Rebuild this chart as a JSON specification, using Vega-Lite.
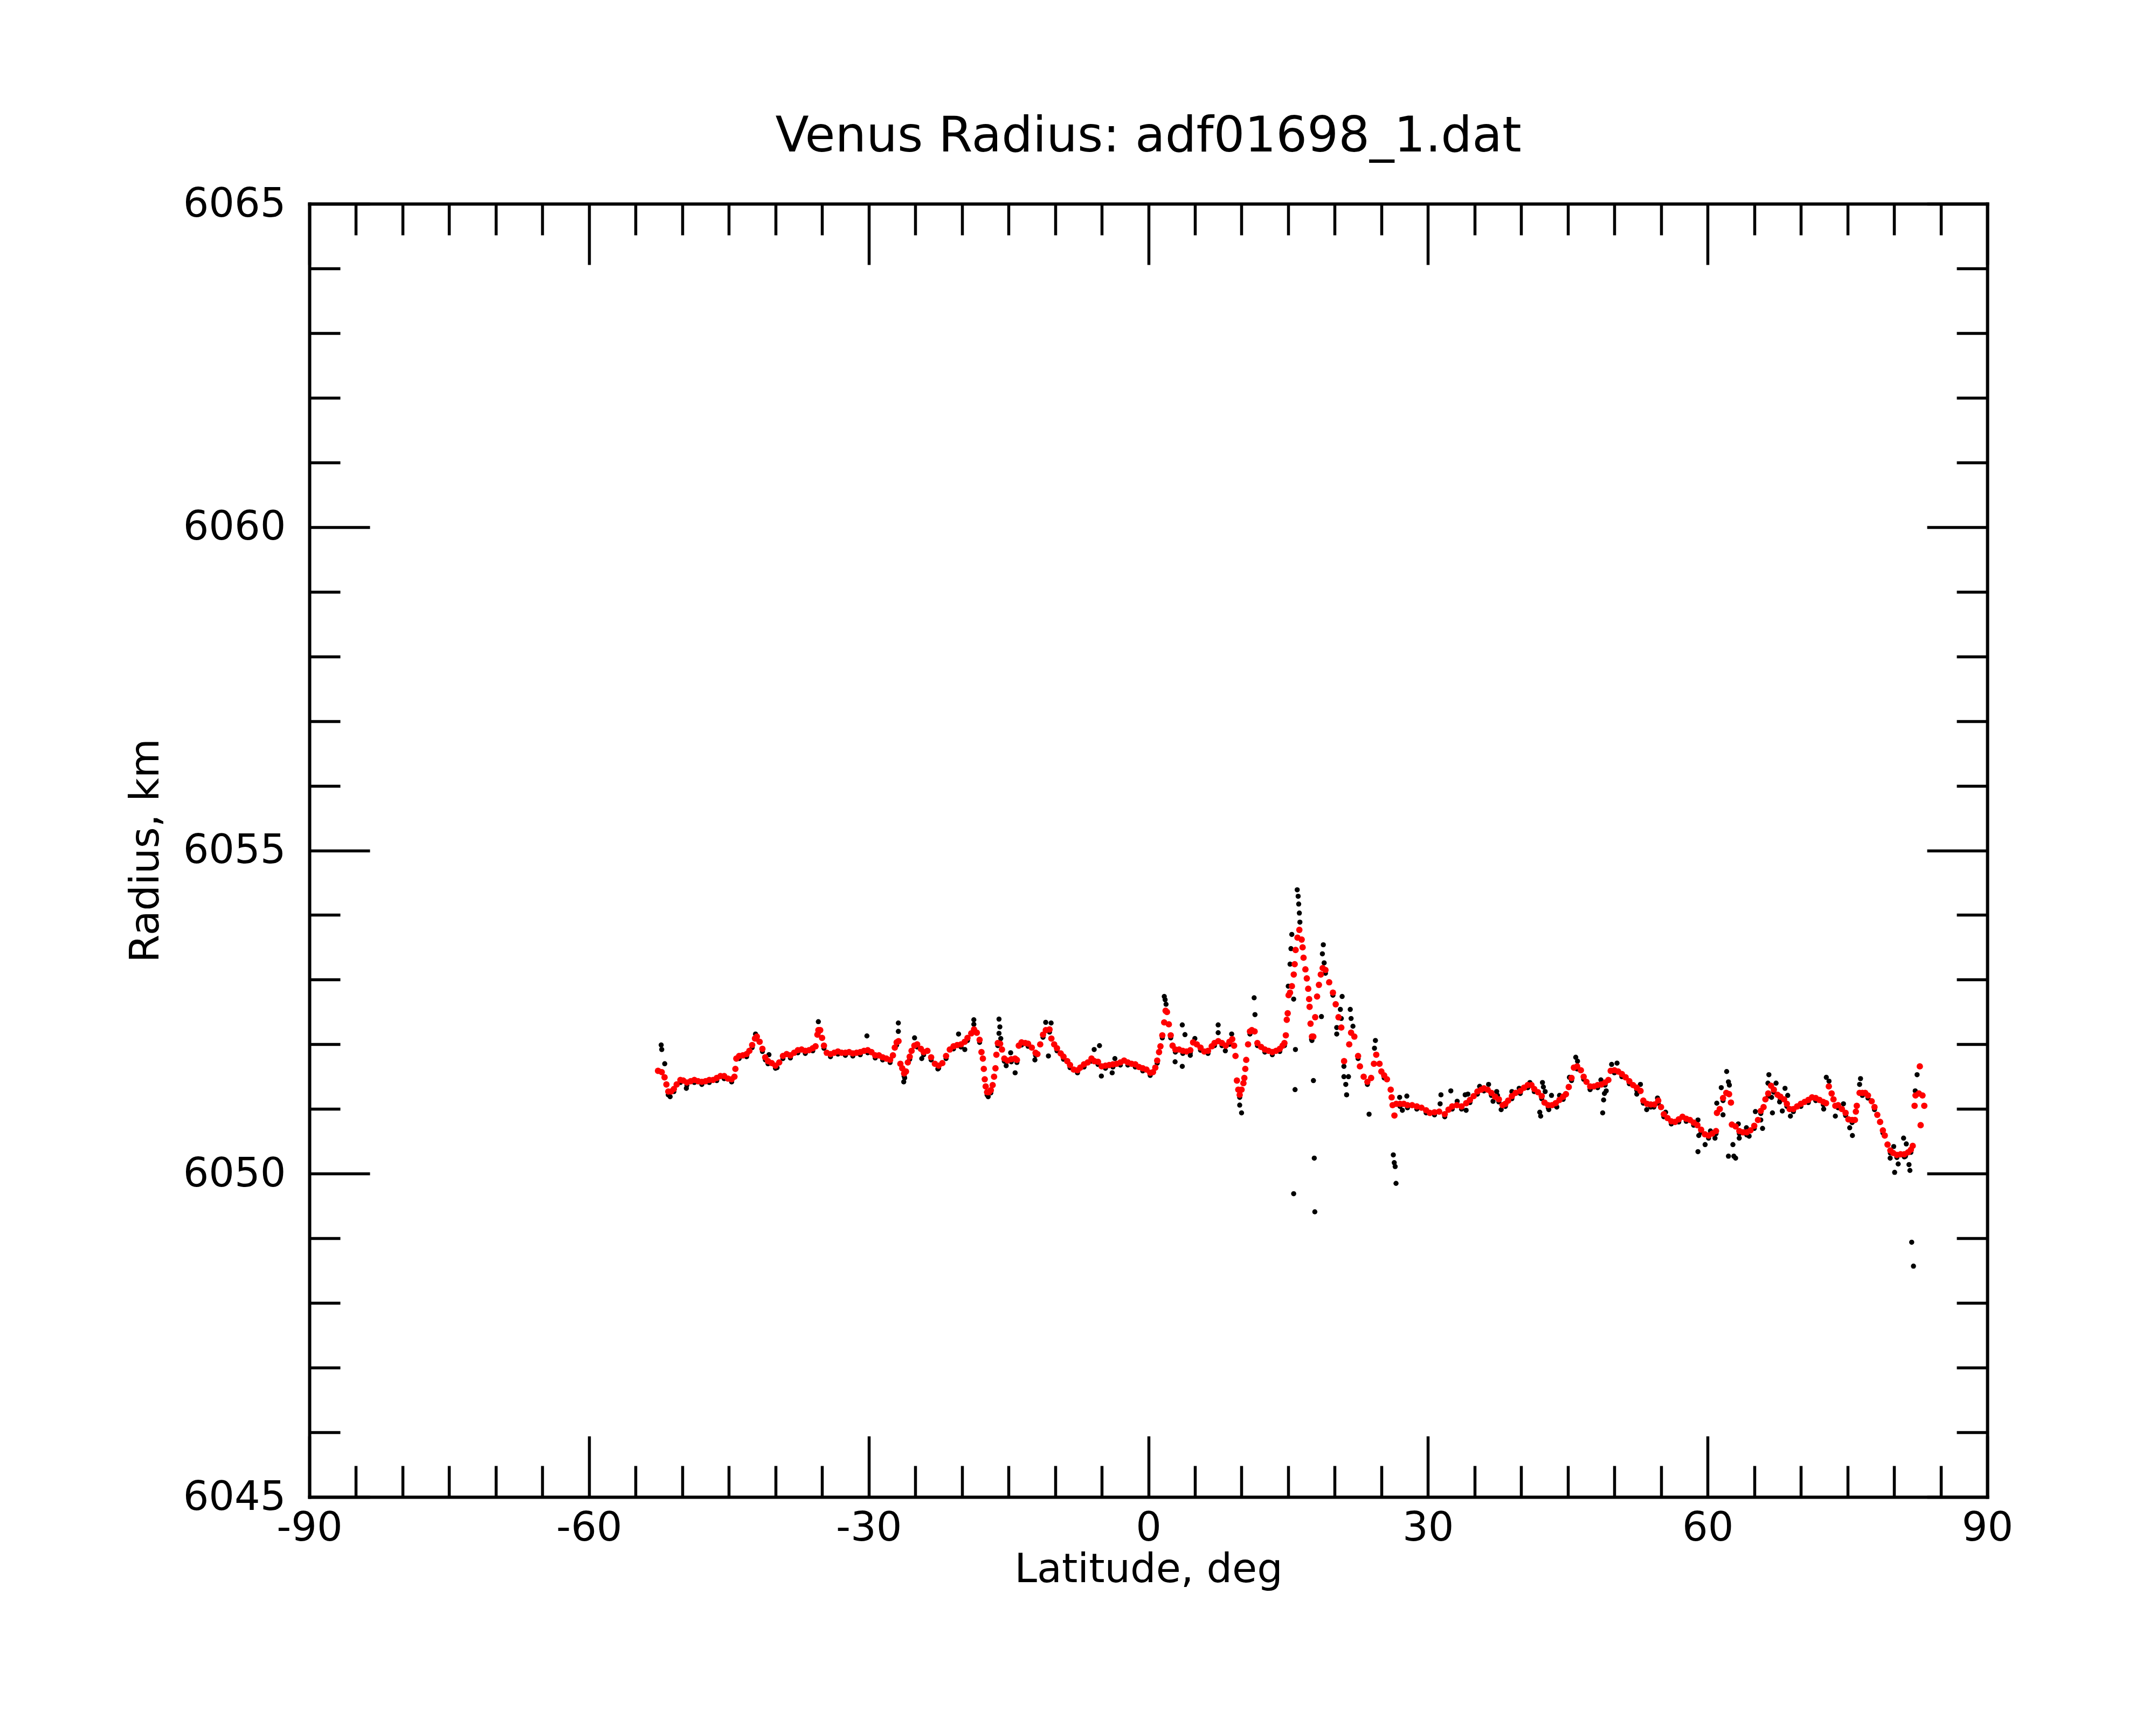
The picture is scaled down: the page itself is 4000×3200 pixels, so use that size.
{
  "$schema": "https://vega.github.io/schema/vega-lite/v6.json",
  "width": 3113,
  "height": 2399,
  "autosize": {"type": "none"},
  "padding": {"left": 574, "top": 378, "right": 313, "bottom": 423},
  "background": "white",
  "title": {
    "text": "Venus Radius: adf01698_1.dat",
    "font": "DejaVu Sans",
    "fontSize": 91,
    "fontWeight": "normal",
    "color": "black",
    "anchor": "middle",
    "frame": "group",
    "baseline": "alphabetic",
    "offset": -31
  },
  "config": {
    "view": {"stroke": null},
    "axis": {
      "grid": false,
      "domainColor": "black",
      "domainWidth": 6,
      "domainCap": "square",
      "tickColor": "black",
      "tickWidth": 5.5,
      "labelFont": "DejaVu Sans",
      "labelFontSize": 75,
      "labelColor": "black",
      "labelLimit": 400,
      "labelFlush": false,
      "labelOverlap": false,
      "titleFont": "DejaVu Sans",
      "titleFontSize": 75,
      "titleFontWeight": "normal",
      "titleColor": "black"
    }
  },
  "datasets": {
    "raw": [
      {"lat":-52.26,"r":6051.99},{"lat":-52.2,"r":6051.92},{"lat":-51.88,"r":6051.7},{"lat":-51.3,"r":6051.19},{"lat":-49.56,"r":6051.32},
      {"lat":-42.14,"r":6052.16},{"lat":-41.08,"r":6051.76},{"lat":-40.7,"r":6051.84},{"lat":-39.83,"r":6051.64},{"lat":-35.4,"r":6052.35},
      {"lat":-30.19,"r":6052.13},{"lat":-26.82,"r":6052.33},{"lat":-26.82,"r":6052.2},{"lat":-26.24,"r":6051.42},{"lat":-26.14,"r":6051.48},
      {"lat":-25.08,"r":6052.1},{"lat":-24.31,"r":6051.78},
      {"lat":-22.58,"r":6051.62},{"lat":-20.36,"r":6052.16},{"lat":-19.69,"r":6051.92},{"lat":-18.72,"r":6052.38},{"lat":-18.72,"r":6052.31},
      {"lat":-17.18,"r":6051.19},{"lat":-16.02,"r":6052.39},{"lat":-15.93,"r":6052.27},{"lat":-16.02,"r":6052.17},{"lat":-15.83,"r":6052.09},
      {"lat":-15.25,"r":6051.67},{"lat":-14.77,"r":6051.87},{"lat":-14.29,"r":6051.56},{"lat":-12.17,"r":6051.76},{"lat":-11.01,"r":6052.34},
      {"lat":-10.43,"r":6052.33},{"lat":-10.72,"r":6051.82},{"lat":-5.81,"r":6051.92},{"lat":-5.24,"r":6051.98},{"lat":-5.04,"r":6051.51},
      {"lat":-3.88,"r":6051.56},{"lat":-3.59,"r":6051.78},{"lat":1.71,"r":6052.74},{"lat":1.8,"r":6052.69},{"lat":1.9,"r":6052.62},
      {"lat":3.64,"r":6052.3},{"lat":3.93,"r":6052.15},{"lat":2.87,"r":6051.73},{"lat":3.64,"r":6051.66},{"lat":4.5,"r":6051.83},{"lat":4.99,"r":6052.09},
      {"lat":7.49,"r":6052.3},{"lat":7.49,"r":6052.18},{"lat":8.94,"r":6052.16},{"lat":8.26,"r":6051.9},{"lat":9.8,"r":6051.06},{"lat":10.0,"r":6050.94},
      {"lat":11.35,"r":6052.72},{"lat":11.44,"r":6052.46},{"lat":15.39,"r":6053.7},{"lat":15.3,"r":6053.48},{"lat":15.2,"r":6053.24},
      {"lat":15.01,"r":6052.9},{"lat":15.59,"r":6052.7},{"lat":15.78,"r":6051.92},{"lat":15.74,"r":6051.3},{"lat":15.59,"r":6049.69},
      {"lat":15.97,"r":6054.39},{"lat":16.07,"r":6054.29},{"lat":16.13,"r":6054.17},{"lat":16.2,"r":6054.03},{"lat":16.26,"r":6053.89},
      {"lat":17.71,"r":6051.44},{"lat":17.8,"r":6050.24},{"lat":17.86,"r":6049.41},{"lat":17.51,"r":6052.08},{"lat":18.57,"r":6052.43},
      {"lat":18.77,"r":6053.54},{"lat":18.67,"r":6053.4},{"lat":18.86,"r":6053.26},{"lat":20.79,"r":6052.74},{"lat":20.6,"r":6052.54},
      {"lat":20.7,"r":6052.4},{"lat":20.21,"r":6052.26},{"lat":20.21,"r":6052.16},{"lat":20.98,"r":6051.66},{"lat":20.98,"r":6051.5},
      {"lat":21.47,"r":6051.5},{"lat":21.18,"r":6051.38},{"lat":21.27,"r":6051.22},{"lat":21.66,"r":6052.54},{"lat":21.75,"r":6052.4},
      {"lat":21.95,"r":6052.28},{"lat":23.68,"r":6050.92},{"lat":24.36,"r":6052.06},{"lat":24.26,"r":6051.94},{"lat":26.28,"r":6050.29},
      {"lat":26.38,"r":6050.17},{"lat":26.48,"r":6050.11},{"lat":26.57,"r":6049.85},{"lat":26.96,"r":6051.18},{"lat":27.25,"r":6050.98},
      {"lat":27.73,"r":6051.2},{"lat":31.39,"r":6051.22},{"lat":31.3,"r":6051.08},{"lat":32.45,"r":6051.28},{"lat":33.13,"r":6051.12},{"lat":33.99,"r":6051.22},
      {"lat":34.28,"r":6051.23},{"lat":34.09,"r":6050.98},{"lat":35.54,"r":6051.35},{"lat":36.5,"r":6051.38},{"lat":37.37,"r":6051.27},
      {"lat":37.46,"r":6051.21},{"lat":36.98,"r":6051.12},{"lat":37.85,"r":6050.99},{"lat":39.0,"r":6051.27},{"lat":39.78,"r":6051.32},
      {"lat":40.93,"r":6051.41},{"lat":42.28,"r":6051.41},{"lat":42.38,"r":6051.34},{"lat":42.57,"r":6051.27},{"lat":43.25,"r":6051.21},
      {"lat":41.99,"r":6050.95},{"lat":42.09,"r":6050.89},{"lat":42.96,"r":6050.99},{"lat":43.82,"r":6051.03},{"lat":44.11,"r":6051.21},
      {"lat":45.17,"r":6051.49},{"lat":45.85,"r":6051.8},{"lat":46.04,"r":6051.74},{"lat":47.39,"r":6051.3},{"lat":48.55,"r":6051.45},
      {"lat":49.12,"r":6051.28},{"lat":48.93,"r":6051.24},{"lat":48.84,"r":6051.14},{"lat":48.74,"r":6050.94},{"lat":49.7,"r":6051.69},
      {"lat":50.28,"r":6051.71},{"lat":52.79,"r":6051.38},{"lat":52.4,"r":6051.23},{"lat":53.46,"r":6050.99},{"lat":54.62,"r":6051.17},
      {"lat":54.23,"r":6051.03},{"lat":55.49,"r":6050.95},{"lat":58.96,"r":6050.83},{"lat":59.05,"r":6050.59},{"lat":59.73,"r":6050.45},
      {"lat":58.96,"r":6050.34},{"lat":60.79,"r":6050.55},{"lat":60.3,"r":6050.66},{"lat":60.98,"r":6051.09},{"lat":61.46,"r":6051.33},
      {"lat":62.04,"r":6051.58},{"lat":62.23,"r":6051.42},{"lat":62.33,"r":6051.37},{"lat":61.65,"r":6050.91},{"lat":62.71,"r":6050.45},
      {"lat":62.23,"r":6050.27},{"lat":62.81,"r":6050.27},
      {"lat":63.0,"r":6050.24},{"lat":63.29,"r":6050.77},{"lat":63.39,"r":6050.55},{"lat":64.16,"r":6050.71},{"lat":64.45,"r":6050.58},
      {"lat":65.12,"r":6050.96},{"lat":65.7,"r":6050.83},{"lat":65.89,"r":6050.7},{"lat":66.57,"r":6051.53},{"lat":66.47,"r":6051.4},
      {"lat":66.86,"r":6051.18},{"lat":66.95,"r":6050.94},{"lat":67.34,"r":6051.4},{"lat":67.72,"r":6051.11},{"lat":68.01,"r":6050.97},
      {"lat":68.3,"r":6051.32},{"lat":68.59,"r":6051.21},{"lat":68.88,"r":6050.89},{"lat":72.45,"r":6051.0},{"lat":72.73,"r":6051.49},
      {"lat":73.02,"r":6051.43},{"lat":73.7,"r":6050.89},{"lat":74.57,"r":6051.08},{"lat":75.24,"r":6050.71},{"lat":75.53,"r":6050.59},
      {"lat":76.4,"r":6051.47},{"lat":76.3,"r":6051.38},{"lat":79.96,"r":6050.42},{"lat":79.58,"r":6050.24},{"lat":80.44,"r":6050.15},
      {"lat":80.06,"r":6050.02},{"lat":81.02,"r":6050.55},{"lat":81.31,"r":6050.46},{"lat":81.22,"r":6050.27},{"lat":81.6,"r":6050.14},
      {"lat":81.7,"r":6050.05},{"lat":82.47,"r":6051.53},{"lat":82.27,"r":6051.28},{"lat":81.89,"r":6048.94},{"lat":82.08,"r":6048.57},
      {"lat":-51.5,"r":6051.22},{"lat":-50.9,"r":6051.27},{"lat":-50.2,"r":6051.41},{"lat":-49.5,"r":6051.37},{"lat":-48.7,"r":6051.41},
      {"lat":-47.9,"r":6051.38},{"lat":-47.1,"r":6051.41},{"lat":-46.3,"r":6051.44},{"lat":-45.5,"r":6051.47},{"lat":-44.7,"r":6051.42},
      {"lat":-43.9,"r":6051.78},{"lat":-43.1,"r":6051.81},{"lat":-42.5,"r":6051.95},{"lat":-42.0,"r":6052.08},{"lat":-41.4,"r":6051.89},
      {"lat":-40.8,"r":6051.7},{"lat":-40.0,"r":6051.63},{"lat":-39.2,"r":6051.78},{"lat":-38.4,"r":6051.79},{"lat":-37.6,"r":6051.87},
      {"lat":-36.8,"r":6051.86},{"lat":-36.0,"r":6051.9},{"lat":-35.4,"r":6052.18},{"lat":-34.8,"r":6051.94},{"lat":-34.1,"r":6051.81},
      {"lat":-33.3,"r":6051.85},{"lat":-32.5,"r":6051.83},{"lat":-31.7,"r":6051.82},{"lat":-30.9,"r":6051.84},{"lat":-30.1,"r":6051.87},
      {"lat":-29.3,"r":6051.79},{"lat":-28.5,"r":6051.76},{"lat":-27.7,"r":6051.72},{"lat":-27.0,"r":6051.99},{"lat":-26.2,"r":6051.51},
      {"lat":-25.6,"r":6051.77},{"lat":-24.8,"r":6051.96},{"lat":-24.1,"r":6051.84},
      {"lat":-23.3,"r":6051.76},{"lat":-22.5,"r":6051.63},{"lat":-21.7,"r":6051.78},{"lat":-20.9,"r":6051.93},{"lat":-20.1,"r":6051.96},
      {"lat":-19.4,"r":6052.06},{"lat":-18.7,"r":6052.19},{"lat":-18.1,"r":6052.03},{"lat":-17.3,"r":6051.22},{"lat":-16.9,"r":6051.25},
      {"lat":-16.15,"r":6051.98},{"lat":-15.45,"r":6051.74},{"lat":-14.7,"r":6051.73},{"lat":-14.1,"r":6051.72},{"lat":-13.6,"r":6051.99},
      {"lat":-12.9,"r":6051.97},{"lat":-12.1,"r":6051.83},{"lat":-11.3,"r":6052.11},{"lat":-10.6,"r":6052.19},{"lat":-9.8,"r":6051.9},
      {"lat":-9.1,"r":6051.77},{"lat":-8.4,"r":6051.64},{"lat":-7.6,"r":6051.56},{"lat":-6.9,"r":6051.65},{"lat":-6.1,"r":6051.74},
      {"lat":-5.4,"r":6051.69},{"lat":-4.6,"r":6051.63},{"lat":-3.8,"r":6051.65},{"lat":-3.0,"r":6051.68},{"lat":-2.2,"r":6051.68},
      {"lat":-1.4,"r":6051.65},{"lat":-0.6,"r":6051.59},{"lat":0.2,"r":6051.52},{"lat":0.95,"r":6051.71},{"lat":1.5,"r":6052.1},
      {"lat":2.4,"r":6052.1},{"lat":2.9,"r":6051.88},{"lat":3.7,"r":6051.86},{"lat":4.5,"r":6051.87},
      {"lat":5.6,"r":6051.91},{"lat":6.4,"r":6051.86},{"lat":7.1,"r":6051.98},{"lat":7.9,"r":6051.98},{"lat":8.7,"r":6052.0},
      {"lat":9.8,"r":6051.18},{"lat":10.9,"r":6052.16},{"lat":11.7,"r":6051.98},{"lat":12.5,"r":6051.88},{"lat":13.3,"r":6051.84},
      {"lat":14.1,"r":6051.89},{"lat":14.6,"r":6051.98},{"lat":17.55,"r":6052.06},{"lat":19.0,"r":6053.1},{"lat":19.8,"r":6052.76},
      {"lat":22.5,"r":6051.78},{"lat":23.5,"r":6051.38},{"lat":25.3,"r":6051.48},{"lat":27.0,"r":6051.04},{"lat":27.8,"r":6051.02},
      {"lat":28.8,"r":6051.0},{"lat":29.8,"r":6050.94},{"lat":30.7,"r":6050.91},{"lat":31.8,"r":6050.88},{"lat":32.6,"r":6051.0},{"lat":33.6,"r":6051.0},
      {"lat":34.5,"r":6051.1},{"lat":35.3,"r":6051.23},{"lat":36.0,"r":6051.28},{"lat":36.8,"r":6051.21},{"lat":37.6,"r":6051.11},
      {"lat":38.3,"r":6051.04},{"lat":39.0,"r":6051.16},{"lat":39.9,"r":6051.24},{"lat":40.7,"r":6051.33},{"lat":41.4,"r":6051.27},
      {"lat":42.2,"r":6051.16},{"lat":42.9,"r":6051.02},{"lat":43.7,"r":6051.05},{"lat":44.5,"r":6051.15},{"lat":45.4,"r":6051.44},
      {"lat":46.0,"r":6051.62},{"lat":46.7,"r":6051.46},{"lat":47.4,"r":6051.31},{"lat":48.2,"r":6051.33},{"lat":49.0,"r":6051.37},
      {"lat":50.0,"r":6051.56},{"lat":50.8,"r":6051.5},{"lat":51.6,"r":6051.39},{"lat":52.4,"r":6051.29},{"lat":53.1,"r":6051.09},
      {"lat":53.9,"r":6051.03},{"lat":54.7,"r":6051.09},{"lat":55.3,"r":6050.88},{"lat":56.1,"r":6050.77},{"lat":56.9,"r":6050.8},
      {"lat":57.7,"r":6050.81},{"lat":58.5,"r":6050.75},{"lat":59.3,"r":6050.64},{"lat":60.1,"r":6050.55},{"lat":60.9,"r":6050.62},{"lat":61.65,"r":6051.13},
      {"lat":63.4,"r":6050.62},{"lat":64.2,"r":6050.6},{"lat":65.0,"r":6050.7},{"lat":65.7,"r":6050.93},{"lat":66.5,"r":6051.2},
      {"lat":67.1,"r":6051.26},{"lat":67.8,"r":6051.15},{"lat":68.5,"r":6051.04},{"lat":69.2,"r":6050.96},{"lat":70.0,"r":6051.04},
      {"lat":70.8,"r":6051.1},{"lat":71.6,"r":6051.13},{"lat":72.4,"r":6051.07},{"lat":74.0,"r":6051.02},{"lat":74.8,"r":6050.9},
      {"lat":75.5,"r":6050.79},{"lat":76.6,"r":6051.21},{"lat":77.2,"r":6051.17},{"lat":77.9,"r":6050.99},{"lat":78.8,"r":6050.63},
      {"lat":79.6,"r":6050.32},{"lat":80.3,"r":6050.25},{"lat":81.1,"r":6050.26},{"lat":81.8,"r":6050.33}
    ],
    "smooth": [
      {"lat":-52.6,"r":6051.59},{"lat":-52.2,"r":6051.57},{"lat":-51.9,"r":6051.49},{"lat":-51.7,"r":6051.38},{"lat":-51.5,"r":6051.27},
      {"lat":-51.2,"r":6051.27},{"lat":-50.9,"r":6051.31},{"lat":-50.6,"r":6051.38},{"lat":-50.2,"r":6051.45},{"lat":-49.9,"r":6051.44},
      {"lat":-49.5,"r":6051.41},{"lat":-49.1,"r":6051.43},{"lat":-48.7,"r":6051.45},{"lat":-48.3,"r":6051.43},{"lat":-47.9,"r":6051.42},
      {"lat":-47.5,"r":6051.43},{"lat":-47.1,"r":6051.45},{"lat":-46.7,"r":6051.45},{"lat":-46.3,"r":6051.48},{"lat":-45.9,"r":6051.51},
      {"lat":-45.5,"r":6051.51},{"lat":-45.1,"r":6051.47},{"lat":-44.7,"r":6051.46},{"lat":-44.4,"r":6051.5},{"lat":-44.3,"r":6051.62},
      {"lat":-44.2,"r":6051.78},{"lat":-43.9,"r":6051.82},{"lat":-43.5,"r":6051.83},{"lat":-43.1,"r":6051.85},{"lat":-42.8,"r":6051.9},
      {"lat":-42.5,"r":6051.99},{"lat":-42.2,"r":6052.09},{"lat":-42.0,"r":6052.12},{"lat":-41.7,"r":6052.04},{"lat":-41.4,"r":6051.93},
      {"lat":-41.1,"r":6051.8},{"lat":-40.8,"r":6051.74},{"lat":-40.4,"r":6051.71},{"lat":-40.0,"r":6051.67},{"lat":-39.6,"r":6051.72},
      {"lat":-39.2,"r":6051.82},{"lat":-38.8,"r":6051.85},{"lat":-38.4,"r":6051.83},{"lat":-38.0,"r":6051.87},{"lat":-37.6,"r":6051.91},
      {"lat":-37.2,"r":6051.92},{"lat":-36.8,"r":6051.9},{"lat":-36.4,"r":6051.91},{"lat":-36.0,"r":6051.94},{"lat":-35.7,"r":6051.97},
      {"lat":-35.5,"r":6052.15},{"lat":-35.4,"r":6052.22},{"lat":-35.2,"r":6052.22},{"lat":-35.0,"r":6052.1},{"lat":-34.8,"r":6051.98},
      {"lat":-34.5,"r":6051.87},{"lat":-34.1,"r":6051.85},{"lat":-33.7,"r":6051.87},{"lat":-33.3,"r":6051.89},{"lat":-32.9,"r":6051.87},
      {"lat":-32.5,"r":6051.87},{"lat":-32.1,"r":6051.88},{"lat":-31.7,"r":6051.86},{"lat":-31.3,"r":6051.87},{"lat":-30.9,"r":6051.88},
      {"lat":-30.5,"r":6051.9},{"lat":-30.1,"r":6051.91},{"lat":-29.7,"r":6051.88},{"lat":-29.3,"r":6051.83},{"lat":-28.9,"r":6051.83},
      {"lat":-28.5,"r":6051.8},{"lat":-28.1,"r":6051.78},{"lat":-27.7,"r":6051.76},{"lat":-27.4,"r":6051.83},{"lat":-27.2,"r":6051.95},
      {"lat":-27.0,"r":6052.03},{"lat":-26.8,"r":6052.05},{"lat":-26.6,"r":6051.7},{"lat":-26.4,"r":6051.63},{"lat":-26.2,"r":6051.55},
      {"lat":-26.0,"r":6051.58},{"lat":-25.8,"r":6051.72},{"lat":-25.6,"r":6051.81},{"lat":-25.4,"r":6051.9},{"lat":-25.1,"r":6051.98},
      {"lat":-24.8,"r":6052.0},{"lat":-24.4,"r":6051.93},{"lat":-24.1,"r":6051.88},
      {"lat":-23.7,"r":6051.9},{"lat":-23.3,"r":6051.8},{"lat":-22.9,"r":6051.7},{"lat":-22.5,"r":6051.67},{"lat":-22.1,"r":6051.71},
      {"lat":-21.7,"r":6051.82},{"lat":-21.3,"r":6051.92},{"lat":-20.9,"r":6051.97},{"lat":-20.5,"r":6051.99},{"lat":-20.1,"r":6052.0},
      {"lat":-19.7,"r":6052.04},{"lat":-19.4,"r":6052.1},{"lat":-19.0,"r":6052.17},{"lat":-18.7,"r":6052.23},{"lat":-18.4,"r":6052.18},
      {"lat":-18.1,"r":6052.07},{"lat":-17.9,"r":6051.88},{"lat":-17.75,"r":6051.78},{"lat":-17.65,"r":6051.62},{"lat":-17.55,"r":6051.46},
      {"lat":-17.45,"r":6051.35},{"lat":-17.3,"r":6051.26},{"lat":-17.1,"r":6051.26},{"lat":-16.9,"r":6051.29},{"lat":-16.7,"r":6051.37},
      {"lat":-16.55,"r":6051.5},{"lat":-16.4,"r":6051.63},{"lat":-16.3,"r":6051.84},{"lat":-16.15,"r":6052.02},{"lat":-15.9,"r":6052.01},
      {"lat":-15.7,"r":6051.92},{"lat":-15.45,"r":6051.78},{"lat":-15.1,"r":6051.75},{"lat":-14.7,"r":6051.77},{"lat":-14.3,"r":6051.78},
      {"lat":-14.1,"r":6051.76},{"lat":-13.9,"r":6051.98},{"lat":-13.6,"r":6052.03},{"lat":-13.2,"r":6052.02},{"lat":-12.9,"r":6052.01},
      {"lat":-12.5,"r":6051.95},{"lat":-12.1,"r":6051.87},{"lat":-11.9,"r":6051.85},{"lat":-11.6,"r":6052.0},{"lat":-11.3,"r":6052.15},
      {"lat":-11.0,"r":6052.22},{"lat":-10.6,"r":6052.23},{"lat":-10.4,"r":6052.09},{"lat":-10.1,"r":6052.0},{"lat":-9.8,"r":6051.94},
      {"lat":-9.4,"r":6051.86},{"lat":-9.1,"r":6051.81},{"lat":-8.7,"r":6051.74},{"lat":-8.4,"r":6051.68},{"lat":-8.0,"r":6051.61},
      {"lat":-7.6,"r":6051.6},{"lat":-7.3,"r":6051.64},{"lat":-6.9,"r":6051.69},{"lat":-6.5,"r":6051.72},{"lat":-6.1,"r":6051.78},
      {"lat":-5.8,"r":6051.74},{"lat":-5.4,"r":6051.73},{"lat":-5.0,"r":6051.66},{"lat":-4.6,"r":6051.67},{"lat":-4.2,"r":6051.68},
      {"lat":-3.8,"r":6051.69},{"lat":-3.4,"r":6051.7},{"lat":-3.0,"r":6051.72},{"lat":-2.6,"r":6051.75},{"lat":-2.2,"r":6051.72},
      {"lat":-1.8,"r":6051.7},{"lat":-1.4,"r":6051.69},{"lat":-1.0,"r":6051.65},{"lat":-0.6,"r":6051.63},{"lat":-0.2,"r":6051.61},
      {"lat":0.2,"r":6051.56},{"lat":0.5,"r":6051.57},{"lat":0.75,"r":6051.64},{"lat":0.95,"r":6051.75},{"lat":1.15,"r":6051.88},
      {"lat":1.3,"r":6051.97},{"lat":1.5,"r":6052.14},{"lat":1.7,"r":6052.34},{"lat":1.85,"r":6052.52},{"lat":2.0,"r":6052.5},
      {"lat":2.2,"r":6052.31},{"lat":2.4,"r":6052.14},{"lat":2.6,"r":6051.98},{"lat":2.9,"r":6051.92},{"lat":3.3,"r":6051.92},
      {"lat":3.7,"r":6051.9},{"lat":4.1,"r":6051.89},{"lat":4.5,"r":6051.91},{"lat":4.8,"r":6052.03},
      {"lat":5.2,"r":6052.0},{"lat":5.6,"r":6051.95},{"lat":6.0,"r":6051.89},{"lat":6.4,"r":6051.9},{"lat":6.8,"r":6051.97},
      {"lat":7.1,"r":6052.02},{"lat":7.5,"r":6052.05},{"lat":7.9,"r":6052.02},{"lat":8.3,"r":6051.98},{"lat":8.7,"r":6052.04},
      {"lat":9.0,"r":6052.08},{"lat":9.2,"r":6051.98},{"lat":9.35,"r":6051.82},{"lat":9.5,"r":6051.44},{"lat":9.65,"r":6051.3},
      {"lat":9.8,"r":6051.22},{"lat":10.0,"r":6051.3},{"lat":10.2,"r":6051.4},{"lat":10.3,"r":6051.48},{"lat":10.4,"r":6051.62},
      {"lat":10.5,"r":6051.76},{"lat":10.7,"r":6052.0},{"lat":10.9,"r":6052.2},{"lat":11.1,"r":6052.22},{"lat":11.4,"r":6052.2},
      {"lat":11.7,"r":6052.02},{"lat":12.1,"r":6051.96},{"lat":12.5,"r":6051.92},{"lat":12.9,"r":6051.9},{"lat":13.3,"r":6051.88},
      {"lat":13.7,"r":6051.9},{"lat":14.1,"r":6051.93},{"lat":14.4,"r":6051.98},{"lat":14.6,"r":6052.02},{"lat":14.75,"r":6052.14},
      {"lat":14.85,"r":6052.38},{"lat":14.95,"r":6052.48},{"lat":15.05,"r":6052.76},{"lat":15.2,"r":6052.8},{"lat":15.4,"r":6052.9},
      {"lat":15.6,"r":6053.08},{"lat":15.7,"r":6053.24},{"lat":15.8,"r":6053.46},{"lat":16.0,"r":6053.65},{"lat":16.2,"r":6053.77},
      {"lat":16.45,"r":6053.62},{"lat":16.55,"r":6053.5},{"lat":16.65,"r":6053.34},{"lat":16.85,"r":6053.16},{"lat":17.0,"r":6053.02},
      {"lat":17.15,"r":6052.86},{"lat":17.25,"r":6052.7},{"lat":17.3,"r":6052.58},{"lat":17.4,"r":6052.32},{"lat":17.55,"r":6052.12},
      {"lat":17.7,"r":6052.12},{"lat":17.9,"r":6052.42},{"lat":18.1,"r":6052.74},{"lat":18.3,"r":6052.92},{"lat":18.5,"r":6053.08},
      {"lat":18.7,"r":6053.18},{"lat":19.0,"r":6053.15},{"lat":19.4,"r":6052.96},{"lat":19.8,"r":6052.8},{"lat":20.1,"r":6052.62},
      {"lat":20.4,"r":6052.42},{"lat":20.7,"r":6052.26},{"lat":21.0,"r":6051.74},{"lat":21.55,"r":6052.0},{"lat":21.75,"r":6052.18},
      {"lat":22.1,"r":6052.12},{"lat":22.5,"r":6051.82},{"lat":22.7,"r":6051.66},{"lat":23.1,"r":6051.5},{"lat":23.5,"r":6051.42},
      {"lat":23.9,"r":6051.48},{"lat":24.2,"r":6051.7},{"lat":24.45,"r":6051.84},{"lat":24.8,"r":6051.7},{"lat":25.0,"r":6051.58},
      {"lat":25.3,"r":6051.52},{"lat":25.6,"r":6051.46},{"lat":26.0,"r":6051.3},{"lat":26.1,"r":6051.18},{"lat":26.2,"r":6051.06},
      {"lat":26.4,"r":6050.9},{"lat":26.6,"r":6051.08},{"lat":27.0,"r":6051.08},{"lat":27.4,"r":6051.08},{"lat":27.8,"r":6051.06},
      {"lat":28.3,"r":6051.06},{"lat":28.8,"r":6051.04},{"lat":29.3,"r":6051.02},{"lat":29.8,"r":6050.98},{"lat":30.2,"r":6050.94},
      {"lat":30.7,"r":6050.95},{"lat":31.2,"r":6050.96},{"lat":31.8,"r":6050.92},{"lat":32.2,"r":6050.99},{"lat":32.6,"r":6051.04},
      {"lat":33.1,"r":6051.06},{"lat":33.6,"r":6051.04},
      {"lat":34.1,"r":6051.09},{"lat":34.5,"r":6051.14},{"lat":34.9,"r":6051.2},{"lat":35.3,"r":6051.27},{"lat":35.7,"r":6051.3},
      {"lat":36.0,"r":6051.32},{"lat":36.4,"r":6051.3},{"lat":36.8,"r":6051.25},{"lat":37.2,"r":6051.19},{"lat":37.6,"r":6051.15},
      {"lat":38.0,"r":6051.06},{"lat":38.3,"r":6051.08},{"lat":38.6,"r":6051.13},{"lat":39.0,"r":6051.2},{"lat":39.4,"r":6051.25},
      {"lat":39.9,"r":6051.28},{"lat":40.3,"r":6051.33},{"lat":40.7,"r":6051.37},{"lat":41.1,"r":6051.37},{"lat":41.4,"r":6051.31},
      {"lat":41.8,"r":6051.26},{"lat":42.2,"r":6051.2},{"lat":42.5,"r":6051.1},{"lat":42.9,"r":6051.06},{"lat":43.3,"r":6051.06},
      {"lat":43.7,"r":6051.09},{"lat":44.1,"r":6051.14},{"lat":44.5,"r":6051.19},{"lat":44.8,"r":6051.23},{"lat":45.1,"r":6051.34},
      {"lat":45.4,"r":6051.48},{"lat":45.65,"r":6051.64},{"lat":46.0,"r":6051.66},{"lat":46.4,"r":6051.6},{"lat":46.7,"r":6051.5},
      {"lat":47.0,"r":6051.42},{"lat":47.4,"r":6051.35},{"lat":47.8,"r":6051.35},{"lat":48.2,"r":6051.37},{"lat":48.6,"r":6051.38},
      {"lat":49.0,"r":6051.41},{"lat":49.35,"r":6051.45},{"lat":49.6,"r":6051.59},{"lat":50.0,"r":6051.6},{"lat":50.4,"r":6051.58},
      {"lat":50.8,"r":6051.54},{"lat":51.2,"r":6051.49},{"lat":51.6,"r":6051.43},{"lat":52.0,"r":6051.37},{"lat":52.4,"r":6051.33},
      {"lat":52.8,"r":6051.28},{"lat":53.1,"r":6051.13},{"lat":53.5,"r":6051.08},{"lat":53.9,"r":6051.07},{"lat":54.3,"r":6051.07},
      {"lat":54.7,"r":6051.13},{"lat":55.0,"r":6051.03},{"lat":55.3,"r":6050.92},{"lat":55.7,"r":6050.86},{"lat":56.1,"r":6050.81},
      {"lat":56.5,"r":6050.8},{"lat":56.9,"r":6050.84},{"lat":57.3,"r":6050.88},{"lat":57.7,"r":6050.85},{"lat":58.1,"r":6050.83},
      {"lat":58.5,"r":6050.79},{"lat":58.9,"r":6050.75},{"lat":59.3,"r":6050.68},{"lat":59.7,"r":6050.61},{"lat":60.1,"r":6050.59},
      {"lat":60.5,"r":6050.62},{"lat":60.9,"r":6050.66},{"lat":61.0,"r":6050.94},{"lat":61.3,"r":6051.0},{"lat":61.65,"r":6051.17},
      {"lat":62.0,"r":6051.25},{"lat":62.3,"r":6051.23},{"lat":62.5,"r":6051.1},{"lat":62.6,"r":6050.76},{"lat":63.0,"r":6050.73},
      {"lat":63.4,"r":6050.66},{"lat":63.8,"r":6050.64},{"lat":64.2,"r":6050.64},{"lat":64.6,"r":6050.67},{"lat":65.0,"r":6050.74},
      {"lat":65.4,"r":6050.83},{"lat":65.7,"r":6050.97},{"lat":66.0,"r":6051.03},{"lat":66.2,"r":6051.15},{"lat":66.5,"r":6051.24},
      {"lat":66.8,"r":6051.36},{"lat":67.1,"r":6051.3},{"lat":67.5,"r":6051.22},{"lat":67.8,"r":6051.19},{"lat":68.2,"r":6051.15},
      {"lat":68.5,"r":6051.08},{"lat":68.8,"r":6051.0},{"lat":69.2,"r":6051.0},{"lat":69.6,"r":6051.04},{"lat":70.0,"r":6051.08},
      {"lat":70.4,"r":6051.11},{"lat":70.8,"r":6051.14},{"lat":71.2,"r":6051.18},{"lat":71.6,"r":6051.17},{"lat":72.0,"r":6051.14},
      {"lat":72.4,"r":6051.11},{"lat":72.7,"r":6051.09},{"lat":73.0,"r":6051.35},{"lat":73.3,"r":6051.24},{"lat":73.5,"r":6051.15},
      {"lat":73.7,"r":6051.05},{"lat":74.0,"r":6051.06},{"lat":74.4,"r":6051.0},{"lat":74.8,"r":6050.94},{"lat":75.1,"r":6050.84},
      {"lat":75.5,"r":6050.83},{"lat":75.8,"r":6050.83},{"lat":75.9,"r":6050.96},{"lat":76.0,"r":6051.05},{"lat":76.3,"r":6051.25},
      {"lat":76.6,"r":6051.25},{"lat":76.9,"r":6051.25},{"lat":77.2,"r":6051.21},{"lat":77.6,"r":6051.12},{"lat":77.9,"r":6051.03},
      {"lat":78.2,"r":6050.91},{"lat":78.5,"r":6050.8},{"lat":78.8,"r":6050.67},{"lat":79.0,"r":6050.59},{"lat":79.3,"r":6050.45},
      {"lat":79.6,"r":6050.36},{"lat":79.9,"r":6050.32},{"lat":80.3,"r":6050.29},{"lat":80.7,"r":6050.3},{"lat":81.1,"r":6050.3},
      {"lat":81.5,"r":6050.33},{"lat":81.8,"r":6050.37},{"lat":82.0,"r":6050.43},{"lat":82.2,"r":6051.05},{"lat":82.3,"r":6051.21},
      {"lat":82.66,"r":6051.24},{"lat":82.76,"r":6051.66},{"lat":83.05,"r":6051.21},{"lat":83.24,"r":6051.05},{"lat":82.85,"r":6050.75}
    ]
  },
  "resolve": {"axis": {"x": "independent", "y": "independent"}},
  "layer": [
    {
      "data": {"name": "raw"},
      "transform": [{"filter": "datum.lat < 0"}],
      "mark": {"type": "circle", "size": 90, "color": "black", "opacity": 1},
      "encoding": {
        "x": {
          "field": "lat",
          "type": "quantitative",
          "scale": {"domain": [-90, 90], "nice": false, "zero": false},
          "axis": {
            "orient": "bottom",
            "title": "Latitude, deg",
            "values": [-90, -60, -30, 0, 30, 60, 90],
            "labelExpr": "'' + datum.value",
            "tickSize": -113,
            "labelPadding": 134,
            "titleX": 1556.5,
            "titleY": 157,
            "titleBaseline": "alphabetic",
            "titleAlign": "center"
          }
        },
        "y": {
          "field": "r",
          "type": "quantitative",
          "scale": {"domain": [6045, 6065], "nice": false, "zero": false},
          "axis": {
            "orient": "left",
            "title": "Radius, km",
            "values": [6045, 6050, 6055, 6060, 6065],
            "labelExpr": "'' + datum.value",
            "tickSize": -112,
            "labelPadding": 156,
            "titleAngle": -90,
            "titleX": -281,
            "titleY": 1199.5,
            "titleBaseline": "alphabetic",
            "titleAlign": "center"
          }
        }
      }
    },
    {
      "data": {"name": "raw"},
      "transform": [{"filter": "datum.lat >= 0"}],
      "mark": {"type": "circle", "size": 90, "color": "black", "opacity": 1},
      "encoding": {
        "x": {
          "field": "lat",
          "type": "quantitative",
          "scale": {"domain": [-90, 90], "nice": false, "zero": false},
          "axis": {
            "orient": "bottom",
            "title": null,
            "labels": false,
            "domain": false,
            "values": [-85,-80,-75,-70,-65,-55,-50,-45,-40,-35,-25,-20,-15,-10,-5,5,10,15,20,25,35,40,45,50,55,65,70,75,80,85],
            "tickSize": -58
          }
        },
        "y": {
          "field": "r",
          "type": "quantitative",
          "scale": {"domain": [6045, 6065], "nice": false, "zero": false},
          "axis": {
            "orient": "left",
            "title": null,
            "labels": false,
            "domain": false,
            "values": [6046,6047,6048,6049,6051,6052,6053,6054,6056,6057,6058,6059,6061,6062,6063,6064],
            "tickSize": -57
          }
        }
      }
    },
    {
      "data": {"name": "smooth"},
      "transform": [{"filter": "datum.lat < 0"}],
      "mark": {"type": "circle", "size": 140, "color": "#ff0000", "opacity": 1},
      "encoding": {
        "x": {
          "field": "lat",
          "type": "quantitative",
          "scale": {"domain": [-90, 90], "nice": false, "zero": false},
          "axis": {
            "orient": "top",
            "title": null,
            "labels": false,
            "values": [-90, -60, -30, 0, 30, 60, 90],
            "tickSize": -113
          }
        },
        "y": {
          "field": "r",
          "type": "quantitative",
          "scale": {"domain": [6045, 6065], "nice": false, "zero": false},
          "axis": {
            "orient": "right",
            "title": null,
            "labels": false,
            "values": [6045, 6050, 6055, 6060, 6065],
            "tickSize": -112
          }
        }
      }
    },
    {
      "data": {"name": "smooth"},
      "transform": [{"filter": "datum.lat >= 0"}],
      "mark": {"type": "circle", "size": 140, "color": "#ff0000", "opacity": 1},
      "encoding": {
        "x": {
          "field": "lat",
          "type": "quantitative",
          "scale": {"domain": [-90, 90], "nice": false, "zero": false},
          "axis": {
            "orient": "top",
            "title": null,
            "labels": false,
            "domain": false,
            "values": [-85,-80,-75,-70,-65,-55,-50,-45,-40,-35,-25,-20,-15,-10,-5,5,10,15,20,25,35,40,45,50,55,65,70,75,80,85],
            "tickSize": -58
          }
        },
        "y": {
          "field": "r",
          "type": "quantitative",
          "scale": {"domain": [6045, 6065], "nice": false, "zero": false},
          "axis": {
            "orient": "right",
            "title": null,
            "labels": false,
            "domain": false,
            "values": [6046,6047,6048,6049,6051,6052,6053,6054,6056,6057,6058,6059,6061,6062,6063,6064],
            "tickSize": -57
          }
        }
      }
    }
  ]
}
